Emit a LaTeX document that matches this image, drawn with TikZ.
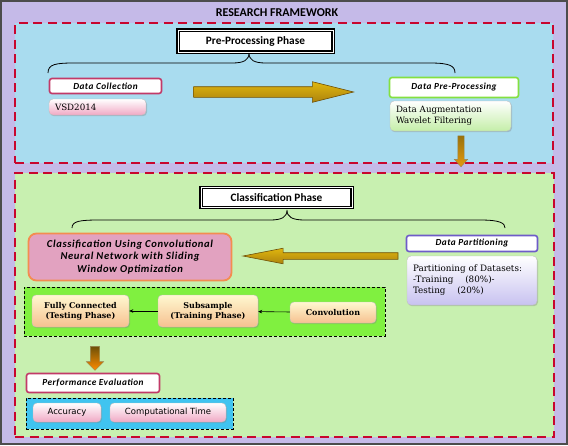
\documentclass[tikz,border=0pt]{standalone}
\usepackage{fontspec}
\setmainfont{DejaVu Serif}
\newfontfamily\calfont{Carlito}
\newfontfamily\tahfont{DejaVu Sans}
\usetikzlibrary{shapes.arrows,shadows,arrows.meta}
\definecolor{lavend}{HTML}{C5BAE8}
\definecolor{skyfill}{HTML}{A9DCEF}
\definecolor{leaffill}{HTML}{C8F0B0}
\definecolor{dashred}{HTML}{C8062E}
\definecolor{gold}{HTML}{D8A412}
\definecolor{golddark}{HTML}{6E5008}
\definecolor{crimson}{HTML}{C23A68}
\definecolor{limeline}{HTML}{84E040}
\definecolor{violetline}{HTML}{6E5CC8}
\definecolor{pinkbot}{HTML}{F0A8C4}
\definecolor{greenbot}{HTML}{C4EEA8}
\definecolor{lilacbot}{HTML}{C8C2F0}
\definecolor{peachbot}{HTML}{F6C090}
\definecolor{creamtop}{HTML}{FFF8D0}
\definecolor{cnnfill}{HTML}{E2A2C0}
\definecolor{cnnline}{HTML}{F48C50}
\definecolor{layerfill}{HTML}{80F040}
\definecolor{metricfill}{HTML}{40C4F0}
\newcommand{\headtxt}[1]{{\calfont\bfseries\itshape\addfontfeature{LetterSpace=5}#1}}

\begin{document}
\begin{tikzpicture}[x=1pt,y=-1pt,
	phase/.style={draw=black,line width=1.2pt,double=white,double distance=0.9pt,fill=white,font=\calfont\bfseries\fontsize{11.3}{13}\selectfont},
	area/.style={draw=dashred,line width=2.3pt,dash pattern=on 9pt off 5.5pt},
	head/.style={draw=#1,line width=1.6pt,fill=white,rounded corners=2.5pt,font=\fontsize{9.3}{10}\selectfont},
	soft/.style={rounded corners=4pt,draw=black!25,line width=0.4pt,drop shadow={opacity=0.35,shadow xshift=1pt,shadow yshift=-1.2pt}},
	layer/.style={soft,top color=creamtop,bottom color=peachbot,font=\bfseries\fontsize{8}{10}\selectfont,align=center},
	metric/.style={soft,top color=white,bottom color=pinkbot,font=\tahfont\fontsize{8.5}{10}\selectfont},
	bigarrow/.style={single arrow,draw=golddark,line width=0.6pt,top color=gold!80!yellow,bottom color=gold!80!black,minimum width=0pt},
	downarrow/.style={single arrow,shape border rotate=270,draw=golddark!70,line width=0.4pt,top color=golddark,bottom color=orange!90!yellow,minimum width=0pt}]
	\useasboundingbox (0,0) rectangle (568,445);
	\draw[fill=lavend,draw=black!70,line width=1.6pt] (0.8,0.8) rectangle (567.2,444.2);
	\node[font=\calfont\bfseries\fontsize{12}{14}\selectfont] (title) at (277,13) {RESEARCH FRAMEWORK};

	\node[area,fill=skyfill,minimum width=538,minimum height=140] (pre) at (284,93) {};
	\node[phase,minimum width=155,minimum height=22] (prephase) at (255.5,41) {Pre-Processing Phase};
	\node[head=crimson,minimum width=112,minimum height=15] (dc) at (105.5,86) {\headtxt{Data Collection}};
	\node[soft,top color=white,bottom color=pinkbot,minimum width=97,minimum height=16,text width=85,align=left,font=\fontsize{8.7}{10}\selectfont] (vsd) at (97.5,107) {VSD2014};
	\node[head=limeline,minimum width=129,minimum height=20] (dpp) at (454,87.5) {\headtxt{Data Pre-Processing}};
	\node[soft,top color=white,bottom color=greenbot,minimum width=121,minimum height=30,text width=109,align=left,font=\fontsize{8.7}{11}\selectfont] (aug) at (450.5,116) {Data Augmentation\\Wavelet Filtering};
	\node[bigarrow,minimum height=160,inner sep=5pt,single arrow head extend=5pt,single arrow tip angle=28] (fwd) at (263,92) {};
	\node[downarrow,minimum height=31,inner sep=3pt,single arrow head extend=3.5pt,single arrow tip angle=84,top color=golddark!60!gold,bottom color=gold!70!orange] (down1) at (461,149.5) {};
	\coordinate (b1l) at (48,73);
	\coordinate (b1r) at (455,73);
	\coordinate (b1t) at (249,53);
	\draw[line width=0.8pt] (b1l) .. controls (48,64) and (56,63) .. (75,63) -- (232,63) .. controls (244,63) and (249,60) .. (b1t) .. controls (249,60) and (254,63) .. (266,63) -- (430,63) .. controls (450,63) and (455,66) .. (b1r);

	\node[area,fill=leaffill,minimum width=539,minimum height=264] (cls) at (284.5,305) {};
	\node[phase,minimum width=151,minimum height=20] (clsphase) at (276.5,197.5) {Classification Phase};
	\node[draw=cnnline,line width=1.8pt,fill=cnnfill,rounded corners=8pt,minimum width=203,minimum height=47,align=center,font=\calfont\bfseries\itshape\addfontfeature{LetterSpace=6}\fontsize{10.6}{12.5}\selectfont] (cnn) at (130,257) {Classification Using Convolutional\\Neural Network with Sliding\\Window Optimization};
	\node[head=violetline,minimum width=131,minimum height=16] (dpart) at (472,243.5) {\headtxt{Data Partitioning}};
	\node[soft,top color=white,bottom color=lilacbot,minimum width=130,minimum height=49,text width=118,align=left,font=\fontsize{8.8}{11}\selectfont] (part) at (472,280.5) {Partitioning of Datasets:\\-Training\quad\ (80\%)-\\Testing\quad\ (20\%)};
	\node[bigarrow,minimum height=155,inner sep=3pt,single arrow head extend=4.5pt,single arrow tip angle=22,shape border rotate=180] (back) at (329,256) {};

	\node[draw=black,densely dashed,line width=0.7pt,fill=layerfill,minimum width=361,minimum height=49] (layers) at (204.5,311.5) {};
	\node[layer,minimum width=97,minimum height=32] (fc) at (80.5,311) {Fully Connected\\(Testing Phase)};
	\node[layer,minimum width=100,minimum height=32] (sub) at (208,311) {Subsample\\(Training Phase)};
	\node[layer,minimum width=86,minimum height=21] (conv) at (333,312.5) {Convolution};
	\draw[-{Stealth[length=4pt,width=3.5pt]},line width=0.6pt] (conv) -- (sub);
	\draw[-{Stealth[length=4pt,width=3.5pt]},line width=0.6pt] (sub) -- (fc);
	\coordinate (b2l) at (72,228);
	\coordinate (b2r) at (505,228);
	\coordinate (b2t) at (287,210);
	\draw[line width=0.8pt] (b2l) .. controls (72,221) and (80,220) .. (100,220) -- (270,220) .. controls (282,220) and (287,217) .. (b2t) .. controls (287,217) and (292,220) .. (305,220) -- (480,220) .. controls (500,220) and (505,223) .. (b2r);

	\node[downarrow,minimum height=24,inner sep=4.5pt,single arrow head extend=4pt,single arrow tip angle=90] (down2) at (95,356) {};
	\node[head=crimson,minimum width=133,minimum height=19] (perf) at (93,383) {\headtxt{Performance Evaluation}};
	\node[draw=black,densely dashed,line width=0.7pt,fill=metricfill,minimum width=207,minimum height=31] (metrics) at (129.5,413.5) {};
	\node[metric,minimum width=68,minimum height=19] (acc) at (67,412.5) {Accuracy};
	\node[metric,minimum width=116,minimum height=19] (ctime) at (168,412.5) {Computational Time};
\end{tikzpicture}
\end{document}
